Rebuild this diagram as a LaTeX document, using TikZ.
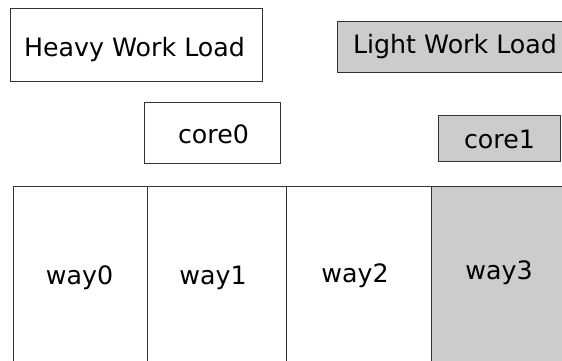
\documentclass[tikz,border=0pt]{standalone}
\usepackage{fontspec}
\setmainfont{DejaVu Sans}
\begin{document}
\begin{tikzpicture}[x=1pt,y=-1pt,
  box/.style={draw=black!80, line width=1.2pt, fill=white, inner sep=0pt, anchor=north west},
  shaded/.style={box, fill=black!20},
  lbl/.style={anchor=base, inner sep=0pt, font=\fontsize{25.3}{30}\selectfont}]
\useasboundingbox (0,0) rectangle (562,361);
\begin{scope}
\clip (0,0) rectangle (562,361);
% load boxes
\node[box, minimum width=252pt, minimum height=73pt] (heavy) at (10,8) {};
\node[shaded, minimum width=225pt, minimum height=51pt] (light) at (337,21) {};
% cores
\node[box, minimum width=136pt, minimum height=61pt] (core0) at (144,102) {};
\node[shaded, minimum width=122pt, minimum height=46pt] (core1) at (438,115) {};
% cache ways
\node[box, minimum width=134pt, minimum height=190pt] (way0) at (13,186) {};
\node[box, minimum width=139pt, minimum height=190pt] (way1) at (147,186) {};
\node[box, minimum width=145pt, minimum height=190pt] (way2) at (286,186) {};
\node[shaded, minimum width=140pt, minimum height=190pt] (way3) at (431,186) {};
\end{scope}
% labels
\node[lbl] (heavyT) at (134.5,57) {Heavy Work Load};
\node[lbl] (lightT) at (455,54) {Light Work Load};
\node[lbl] (core0T) at (213.5,143) {core0};
\node[lbl] (core1T) at (499.5,148) {core1};
\node[lbl] (way0T) at (79.5,284) {way0};
\node[lbl] (way1T) at (213,284) {way1};
\node[lbl] (way2T) at (355,282) {way2};
\node[lbl] (way3T) at (499,279) {way3};
\end{tikzpicture}
\end{document}
